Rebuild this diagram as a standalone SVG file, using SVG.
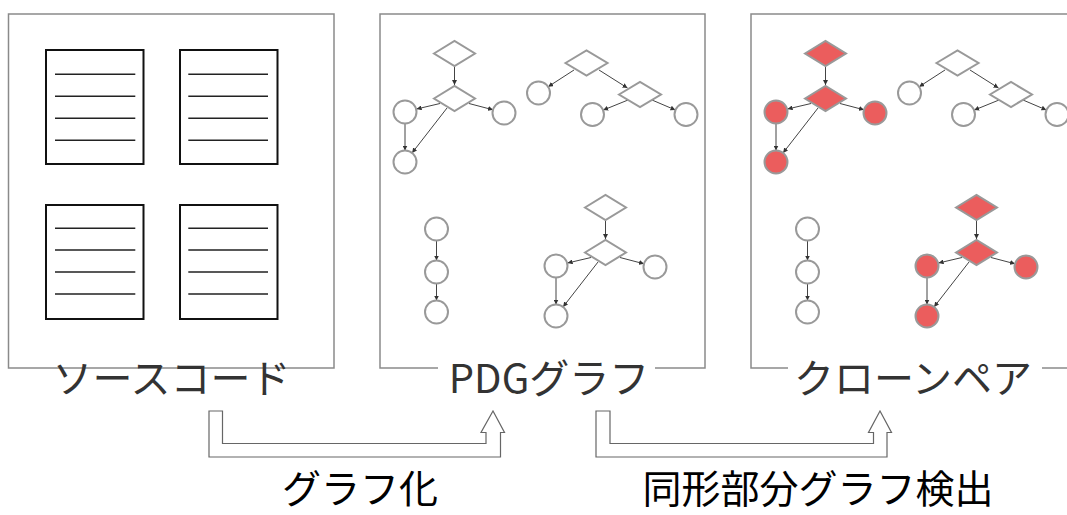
<svg xmlns="http://www.w3.org/2000/svg" width="1067" height="515" viewBox="0 0 1067 515">
<style>
.panel{fill:#fff;stroke:#8a8a8a;stroke-width:1.5}
.doc{fill:#fff;stroke:#111;stroke-width:2}
.ln{stroke:#222;stroke-width:1.6}
.n{fill:#fff;stroke:#999;stroke-width:2}
.r{fill:#eb5d5d;stroke:#999;stroke-width:2}
.e{fill:none;stroke:#444;stroke-width:1;marker-end:url(#ah)}
.lbl{font-family:"Noto Sans CJK JP","Noto Sans",sans-serif;font-size:40px;fill:#333;text-anchor:middle}
.blbl{font-family:"Noto Sans CJK JP","Noto Sans",sans-serif;font-size:39px;fill:#000;text-anchor:middle}
.blk{fill:#fff;stroke:#666;stroke-width:1.2}
</style>
<defs>
<marker id="ah" viewBox="0 0 10 10" refX="10" refY="5" markerWidth="5" markerHeight="5" orient="auto" markerUnits="userSpaceOnUse">
<path d="M0,0 L10,5 L0,10 Z" fill="#333"/>
</marker>
</defs>
<rect width="1067" height="515" fill="#fff"/>

<g id="panel-source">
<rect class="panel" x="8.5" y="14" width="325.5" height="354"/>
<g id="doc1"><rect class="doc" x="46" y="50" width="97.5" height="114"/>
<path class="ln" d="M55,74.3H135.3M55,96.3H135.3M55,118.3H135.3M55,140.3H135.3"/></g>
<g id="doc2"><rect class="doc" x="180" y="50" width="97.5" height="114"/>
<path class="ln" d="M188.3,74.3H268M188.3,96.3H268M188.3,118.3H268M188.3,140.3H268"/></g>
<g id="doc3"><rect class="doc" x="46" y="205" width="97.5" height="114"/>
<path class="ln" d="M55,228.3H135.3M55,250H135.3M55,272H135.3M55,294H135.3"/></g>
<g id="doc4"><rect class="doc" x="180" y="205" width="97.5" height="114"/>
<path class="ln" d="M188.3,228.3H268M188.3,250H268M188.3,272H268M188.3,294H268"/></g>
<text class="lbl" x="171.5" y="393">ソースコード</text>
</g>

<g id="panel-pdg">
<rect class="panel" x="380" y="14" width="325" height="354"/>
<g id="p2-edges">
<path class="e" d="M454.5,66V85"/>
<path class="e" d="M440,103.5L416.6,109"/>
<path class="e" d="M469,103.5L493,109.8"/>
<path class="e" d="M405,123.5V150.5"/>
<path class="e" d="M447,108L412.1,152.9"/>
<path class="e" d="M574,70L548.2,86.7"/>
<path class="e" d="M599,70L627.5,88"/>
<path class="e" d="M628,100L603.2,110.1"/>
<path class="e" d="M652,100L675.4,110"/>
<path class="e" d="M436.5,240.5V260.5"/>
<path class="e" d="M436.5,283.5V300.5"/>
<path class="e" d="M605.5,220V239"/>
<path class="e" d="M591,257.5L567.6,263"/>
<path class="e" d="M620,257.5L644,263.8"/>
<path class="e" d="M556,277.5V304.5"/>
<path class="e" d="M598,262L563.1,306.9"/>
</g>
<g id="p2-a-d1"><polygon class="n" points="434,53.5 454.5,41 475,53.5 454.5,66"/></g>
<g id="p2-a-d2"><polygon class="n" points="434,98.5 454.5,86 475,98.5 454.5,111"/></g>
<g id="p2-a-cl"><circle class="n" cx="405" cy="112" r="11.5"/></g>
<g id="p2-a-cr"><circle class="n" cx="504" cy="113" r="11.5"/></g>
<g id="p2-a-cb"><circle class="n" cx="405" cy="162" r="11.5"/></g>
<g id="p2-b-d1"><polygon class="n" points="565.5,63 586.5,50.5 607.5,63 586.5,75.5"/></g>
<g id="p2-b-d2"><polygon class="n" points="619,94.5 640,82 661,94.5 640,107"/></g>
<g id="p2-b-c1"><circle class="n" cx="538.5" cy="93" r="11.5"/></g>
<g id="p2-b-c2"><circle class="n" cx="592.5" cy="114.5" r="11.5"/></g>
<g id="p2-b-c3"><circle class="n" cx="686" cy="114.5" r="11.5"/></g>
<g id="p2-c-c1"><circle class="n" cx="436.5" cy="229" r="11.5"/></g>
<g id="p2-c-c2"><circle class="n" cx="436.5" cy="272" r="11.5"/></g>
<g id="p2-c-c3"><circle class="n" cx="436.5" cy="312" r="11.5"/></g>
<g id="p2-d-d1"><polygon class="n" points="585,207.5 605.5,195 626,207.5 605.5,220"/></g>
<g id="p2-d-d2"><polygon class="n" points="585,252.5 605.5,240 626,252.5 605.5,265"/></g>
<g id="p2-d-cl"><circle class="n" cx="556" cy="266" r="11.5"/></g>
<g id="p2-d-cr"><circle class="n" cx="655" cy="267" r="11.5"/></g>
<g id="p2-d-cb"><circle class="n" cx="556" cy="316" r="11.5"/></g>
<rect x="438" y="360" width="217" height="14" fill="#fff"/>
<text class="lbl" x="549" y="393">PDGグラフ</text>
</g>

<g id="panel-clone">
<rect class="panel" x="751" y="14" width="325" height="354"/>
<g id="p3-edges">
<path class="e" d="M825.5,66V85"/>
<path class="e" d="M811,103.5L787.6,109"/>
<path class="e" d="M840,103.5L864,109.8"/>
<path class="e" d="M776,123.5V150.5"/>
<path class="e" d="M818,108L783.1,152.9"/>
<path class="e" d="M945,70L919.2,86.7"/>
<path class="e" d="M970,70L998.5,88"/>
<path class="e" d="M999,100L974.2,110.1"/>
<path class="e" d="M1023,100L1046.4,110"/>
<path class="e" d="M807.5,240.5V260.5"/>
<path class="e" d="M807.5,283.5V300.5"/>
<path class="e" d="M976.5,220V239"/>
<path class="e" d="M962,257.5L938.6,263"/>
<path class="e" d="M991,257.5L1015,263.8"/>
<path class="e" d="M927,277.5V304.5"/>
<path class="e" d="M969,262L934.1,306.9"/>
</g>
<g id="p3-a-d1"><polygon class="r" points="805,53.5 825.5,41 846,53.5 825.5,66"/></g>
<g id="p3-a-d2"><polygon class="r" points="805,98.5 825.5,86 846,98.5 825.5,111"/></g>
<g id="p3-a-cl"><circle class="r" cx="776" cy="112" r="11.5"/></g>
<g id="p3-a-cr"><circle class="r" cx="875" cy="113" r="11.5"/></g>
<g id="p3-a-cb"><circle class="r" cx="776" cy="162" r="11.5"/></g>
<g id="p3-b-d1"><polygon class="n" points="936.5,63 957.5,50.5 978.5,63 957.5,75.5"/></g>
<g id="p3-b-d2"><polygon class="n" points="990,94.5 1011,82 1032,94.5 1011,107"/></g>
<g id="p3-b-c1"><circle class="n" cx="909.5" cy="93" r="11.5"/></g>
<g id="p3-b-c2"><circle class="n" cx="963.5" cy="114.5" r="11.5"/></g>
<g id="p3-b-c3"><circle class="n" cx="1057" cy="114.5" r="11.5"/></g>
<g id="p3-c-c1"><circle class="n" cx="807.5" cy="229" r="11.5"/></g>
<g id="p3-c-c2"><circle class="n" cx="807.5" cy="272" r="11.5"/></g>
<g id="p3-c-c3"><circle class="n" cx="807.5" cy="312" r="11.5"/></g>
<g id="p3-d-d1"><polygon class="r" points="956,207.5 976.5,195 997,207.5 976.5,220"/></g>
<g id="p3-d-d2"><polygon class="r" points="956,252.5 976.5,240 997,252.5 976.5,265"/></g>
<g id="p3-d-cl"><circle class="r" cx="927" cy="266" r="11.5"/></g>
<g id="p3-d-cr"><circle class="r" cx="1026" cy="267" r="11.5"/></g>
<g id="p3-d-cb"><circle class="r" cx="927" cy="316" r="11.5"/></g>
<rect x="788" y="360" width="254" height="14" fill="#fff"/>
<text class="lbl" x="913" y="393">クローンペア</text>
</g>

<g id="connectors">
<path class="blk" d="M209,411H222.5V443.5H486V432.5H481L493,411L504.5,432.5H500.5V457H209Z"/>
<path class="blk" d="M596,411H610V443.5H873.5V432.5H868.5L880,411L891.5,432.5H887V457H596Z"/>
</g>
<g id="label-graphify"><text class="blbl" x="360" y="503">グラフ化</text></g>
<g id="label-detect"><text class="blbl" x="818" y="503">同形部分グラフ検出</text></g>
</svg>
